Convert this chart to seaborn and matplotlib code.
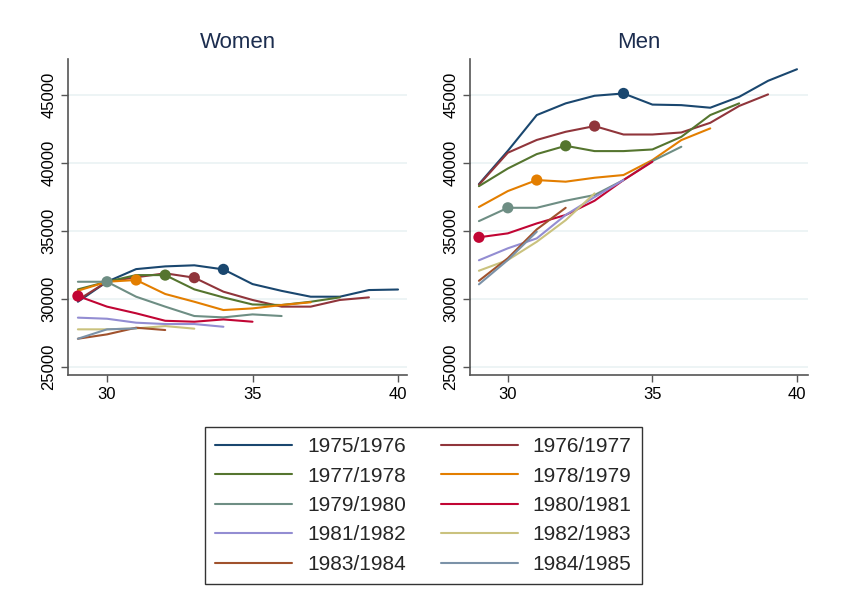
import pandas as pd
import matplotlib
matplotlib.use("Agg")
import matplotlib.pyplot as plt
import seaborn as sns

cohorts = ["1975/1976", "1976/1977", "1977/1978", "1978/1979", "1979/1980",
           "1980/1981", "1981/1982", "1982/1983", "1983/1984", "1984/1985"]
colors = ["#1a476f", "#90353b", "#55752f", "#e37e00", "#6e8e84",
          "#c10534", "#938dd2", "#cac27e", "#a0522d", "#7b92a8"]
# age at which each cohort gets a dot (None = no dot)
marker_age = [34, 33, 32, 31, 30, 29, None, None, None, None]

# income by age, starting at age 29
women = [
    [29800, 31270, 32200, 32400, 32480, 32180, 31100, 30600, 30170, 30170, 30660, 30700],
    [29930, 31270, 31600, 31890, 31570, 30540, 29930, 29440, 29440, 29930, 30120],
    [30710, 31270, 31760, 31760, 30710, 30120, 29600, 29560, 29800, 30120],
    [30610, 31270, 31400, 30370, 29800, 29190, 29310, 29560, 29760],
    [31270, 31270, 30170, 29440, 28750, 28650, 28870, 28750],
    [30220, 29440, 28950, 28400, 28330, 28500, 28330],
    [28630, 28550, 28260, 28160, 28160, 27960],
    [27770, 27770, 27840, 28010, 27820],
    [27080, 27400, 27890, 27720],
    [27080, 27770, 27840],
]
men = [
    [38450, 40900, 43530, 44390, 44950, 45120, 44300, 44260, 44070, 44870, 46050, 46900],
    [38400, 40760, 41700, 42300, 42720, 42100, 42100, 42250, 42960, 44200, 45050],
    [38300, 39600, 40660, 41270, 40880, 40880, 41000, 41930, 43530, 44390],
    [36770, 37940, 38750, 38630, 38920, 39120, 40220, 41690, 42550],
    [35730, 36710, 36710, 37230, 37650, 38750, 40150, 41200],
    [34540, 34830, 35560, 36180, 37230, 38750, 40100],
    [32850, 33730, 34460, 36180, 37500, 38750],
    [32080, 32870, 34210, 35800, 37770],
    [31340, 33000, 35120, 36710],
    [31080, 32870, 34950],
]


def long_table(series):
    rows = []
    for c, vals in zip(cohorts, series):
        for i, v in enumerate(vals):
            rows.append({"cohort": c, "age": 29 + i, "income": v})
    return pd.DataFrame(rows)


def dots(series):
    rows = []
    for c, vals, a in zip(cohorts, series, marker_age):
        if a is not None:
            rows.append({"cohort": c, "age": a, "income": vals[a - 29]})
    return pd.DataFrame(rows)


sns.set_style("white")
plt.rcParams["font.family"] = ["Liberation Sans", "DejaVu Sans"]
palette = dict(zip(cohorts, colors))

fig = plt.figure(figsize=(8.48, 6.10), dpi=100)
ax1 = fig.add_axes([0.0802, 0.3852, 0.3998, 0.518])
ax2 = fig.add_axes([0.5542, 0.3852, 0.3986, 0.518])

for ax, data, title, xlim in [(ax1, women, "Women", (28.66, 40.31)),
                              (ax2, men, "Men", (28.69, 40.38))]:
    df = long_table(data)
    sns.lineplot(data=df, x="age", y="income", hue="cohort", palette=palette,
                 hue_order=cohorts, linewidth=1.5, ax=ax, legend=False, zorder=3)
    sns.scatterplot(data=dots(data), x="age", y="income", hue="cohort",
                    palette=palette, s=65, edgecolor="none", ax=ax,
                    legend=False, zorder=4)
    ax.set_xlim(*xlim)
    ax.set_ylim(24410, 47650)
    ax.set_xticks([30, 35, 40])
    ax.set_yticks([25000, 30000, 35000, 40000, 45000])
    ax.set_yticklabels(["25000", "30000", "35000", "40000", "45000"],
                       rotation=90, va="center")
    ax.grid(axis="y", color="#eaf2f3", linewidth=1.2, zorder=0)
    ax.set_axisbelow(True)
    ax.set_xlabel("")
    ax.set_ylabel("")
    ax.set_title(title, fontsize=16, color="#1c2d4f", pad=8)
    sns.despine(ax=ax)
    for s in ["left", "bottom"]:
        ax.spines[s].set_color("#555555")
        ax.spines[s].set_linewidth(1.2)
    ax.tick_params(axis="both", direction="out", length=5, width=1,
                   color="#555555", labelsize=12, labelcolor="black",
                   left=True, bottom=True)

handles = [plt.Line2D([], [], color=c, linewidth=1.5) for c in colors]
order = [0, 2, 4, 6, 8, 1, 3, 5, 7, 9]
fig.legend([handles[i] for i in order], [cohorts[i] for i in order],
           loc="center", bbox_to_anchor=(0.4994, 0.1713), ncol=2,
           fontsize=15, handlelength=3.7, handletextpad=0.7,
           columnspacing=1.7, labelspacing=0.5, borderpad=0.5,
           frameon=True, fancybox=False, edgecolor="#333333",
           framealpha=1)

fig.savefig("out.png", dpi=100)
